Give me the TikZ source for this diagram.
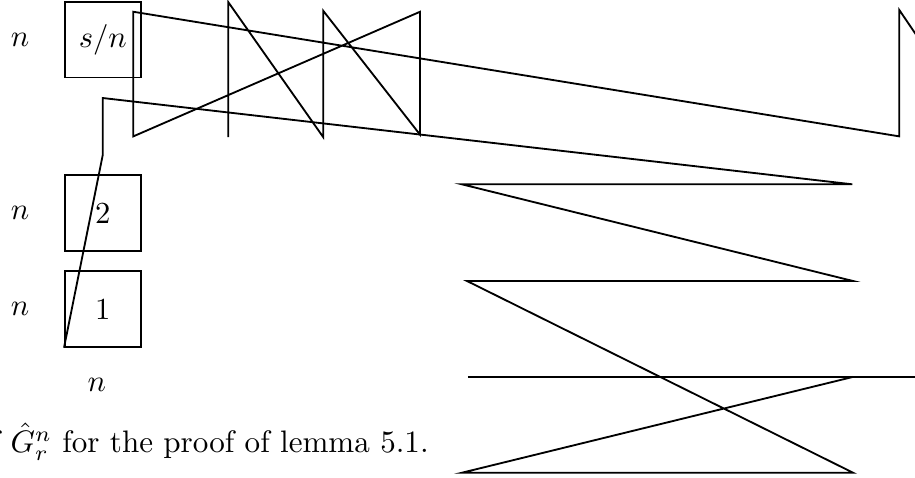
\documentclass[tikz,border=0pt]{standalone}
\begin{document}
\begin{tikzpicture}[line width=0.6pt,cell/.style={draw,minimum size=0.87cm,inner sep=0pt}]
\clip (0,0) rectangle (10.5,5.485);
\node[cell] (sn) at (1.18,5.03) {$s/n$};
\node[cell] (two) at (1.18,3.04) {2};
\node[cell] (one) at (1.18,1.94) {1};
\node (nsn) at (0.23,5.03) {$n$};
\node (ntwo) at (0.23,3.04) {$n$};
\node (none) at (0.23,1.94) {$n$};
\node (nbot) at (1.11,1.07) {$n$};
\node[anchor=base east,inner sep=0pt,scale=1.015] (cap) at (4.93,0.29) {f $\hat{G}^n_r$ for the proof of lemma 5.1.};
\draw (2.62,3.91) -- (2.62,5.46) -- (3.71,3.91) -- (3.71,5.36) -- (4.82,3.94) -- (4.82,5.35) -- (1.53,3.92) -- (1.53,5.35) -- (10.32,3.92) -- (10.32,5.37) -- (10.68,4.84);
\draw (one.south west) -- (1.18,3.71) -- (1.18,4.36) -- (9.78,3.37) -- (5.30,3.37) -- (9.79,2.26) -- (5.36,2.26) -- (9.79,0.06) -- (5.30,0.06) -- (9.79,1.16);
\draw (5.37,1.16) -- (10.6,1.16);
\end{tikzpicture}
\end{document}
